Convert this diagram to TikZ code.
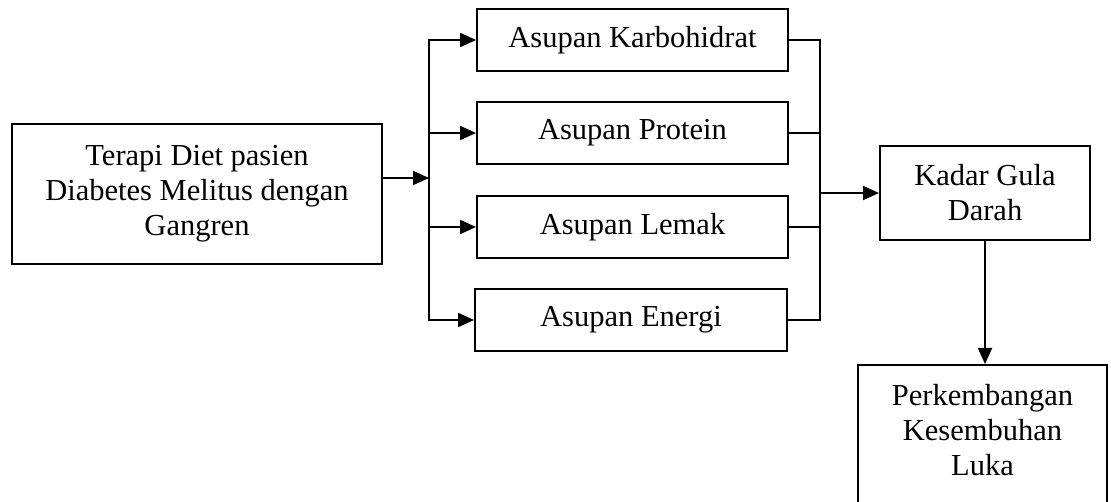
\documentclass[tikz,border=0pt]{standalone}
\usepackage{fontspec}
\setmainfont{Liberation Serif}
\usetikzlibrary{arrows.meta,calc}
\begin{document}
\begin{tikzpicture}[x=1pt,y=-1pt,
  box/.style={draw, line width=1.9pt, inner sep=0pt, align=center,
    font=\fontsize{30.5}{35}\selectfont},
  txt/.style={inner sep=0pt, align=center, font=\fontsize{30.5}{35}\selectfont},
  conn/.style={line width=1.9pt, line cap=rect},
  arr/.style={line width=1.9pt, -{Triangle[length=16pt,width=14pt]}}]
\useasboundingbox (0,0) rectangle (1111,502);
\clip (0,0) rectangle (1111,502);
\fill[white] (0,0) rectangle (1111,502);
% boxes
\node[box, minimum width=370pt, minimum height=140pt] (terapi) at (197,194)
  {Terapi Diet pasien\\Diabetes Melitus dengan\\Gangren};
\node[box, minimum width=311pt, minimum height=62pt] (karbo) at (632.5,40) {Asupan Karbohidrat};
\node[box, minimum width=311pt, minimum height=62pt] (protein) at (632.5,133) {Asupan Protein};
\node[box, minimum width=311pt, minimum height=62pt] (lemak) at (632.5,227) {Asupan Lemak};
\node[box, minimum width=312pt, minimum height=62pt] (energi) at (631,320) {Asupan Energi};
\node[box, minimum width=210pt, minimum height=94pt] (kadar) at (985,193) {Kadar Gula\\Darah};
\node[box, anchor=north, minimum width=249pt, minimum height=160pt] (perkbox) at (982.5,364) {};
\node[txt] (perktext) at (982.5,430) {Perkembangan\\Kesembuhan\\Luka};
% left bus
\coordinate (bL) at (429,178);
\coordinate (jL) at (429,178);
\draw[conn] (karbo.west -| bL) -- (energi.west -| bL);
\draw[arr] (terapi.east |- jL) -- (jL);
\draw[arr] (karbo.west -| bL) -- (karbo.west);
\draw[arr] (protein.west -| bL) -- (protein.west);
\draw[arr] (lemak.west -| bL) -- (lemak.west);
\draw[arr] (energi.west -| bL) -- (energi.west);
% right bus
\coordinate (bR) at (820,193);
\draw[conn] (karbo.east -| bR) -- (energi.east -| bR);
\draw[conn] (karbo.east) -- (karbo.east -| bR);
\draw[conn] (protein.east) -- (protein.east -| bR);
\draw[conn] (lemak.east) -- (lemak.east -| bR);
\draw[conn] (energi.east) -- (energi.east -| bR);
\draw[arr] (kadar.west -| bR) -- (kadar.west);
% down
\draw[arr] (kadar.south) -- (kadar.south |- perkbox.north);
\end{tikzpicture}
\end{document}
